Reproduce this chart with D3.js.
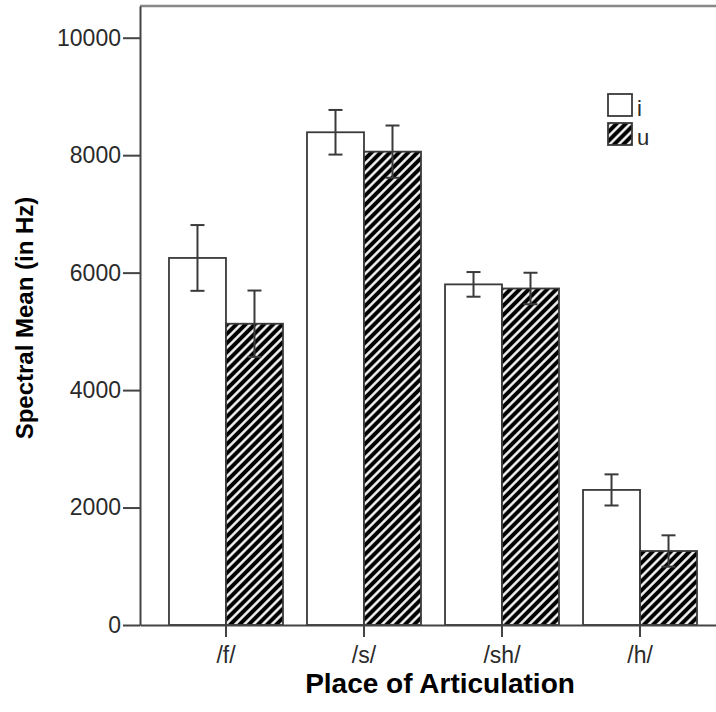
<!DOCTYPE html>
<html>
<head>
<meta charset="utf-8">
<script src="https://cdn.jsdelivr.net/npm/d3@7"></script>
<style>
  html, body { margin: 0; padding: 0; background: #fff; }
  svg { display: block; }
</style>
</head>
<body>
<svg id="chart" width="716" height="712"></svg>
<script>
// Spectral mean by place of articulation, split by following vowel
const categories = ["/f/", "/s/", "/sh/", "/h/"];
const vowels = ["i", "u"];
const meanI = [6250, 8390, 5800, 2300];
const meanU = [5130, 8060, 5730, 1260];
const errI = [560, 380, 210, 265];
const errU = [565, 445, 268, 267];
const yTicks = [0, 2000, 4000, 6000, 8000, 10000];

const svg = d3.select("#chart");
const plotLeft = 140, plotRight = 726, plotTop = 6, plotBottom = 625;

const rows = [];
categories.forEach((c, k) => {
  rows.push({ cat: c, v: "i", mean: meanI[k], err: errI[k] });
  rows.push({ cat: c, v: "u", mean: meanU[k], err: errU[k] });
});

const x = d3.scaleBand().domain(categories).range([plotLeft, plotRight])
  .paddingInner(0.174).paddingOuter(0.21);
const xSub = d3.scaleBand().domain(vowels).range([0, x.bandwidth()]);
const y = d3.scaleLinear().domain([0, 10540]).range([plotBottom, plotTop]);

// diagonal hatch for the "u" bars
const defs = svg.append("defs");
const hs = 6.5;
const pat = defs.append("pattern")
  .attr("id", "hatch")
  .attr("patternUnits", "userSpaceOnUse")
  .attr("width", hs).attr("height", hs)
  .attr("patternTransform", "rotate(45)");
pat.append("rect").attr("width", hs).attr("height", hs).attr("fill", "#000");
pat.append("line").attr("x1", hs / 2).attr("y1", -1).attr("x2", hs / 2).attr("y2", hs + 1)
  .attr("stroke", "#fff").attr("stroke-width", 2.4);

const fillFor = v => v === "i" ? "#fff" : "url(#hatch)";

// bars
svg.append("g").selectAll("rect")
  .data(rows).join("rect")
  .attr("x", d => x(d.cat) + xSub(d.v))
  .attr("y", d => y(d.mean))
  .attr("width", xSub.bandwidth())
  .attr("height", d => y(0) - y(d.mean))
  .attr("fill", d => fillFor(d.v))
  .attr("stroke", "#3a3a3a")
  .attr("stroke-width", 1.8);

// error bars
const cap = 7;
const eb = svg.append("g").attr("stroke", "#3a3a3a").attr("stroke-width", 2).attr("fill", "none");
rows.forEach(d => {
  const cx = x(d.cat) + xSub(d.v) + xSub.bandwidth() / 2;
  const y1 = y(d.mean + d.err), y2 = y(d.mean - d.err);
  eb.append("line").attr("x1", cx).attr("x2", cx).attr("y1", y1).attr("y2", y2);
  eb.append("line").attr("x1", cx - cap).attr("x2", cx + cap).attr("y1", y1).attr("y2", y1);
  eb.append("line").attr("x1", cx - cap).attr("x2", cx + cap).attr("y1", y2).attr("y2", y2);
});

// top frame line
svg.append("line")
  .attr("x1", plotLeft).attr("x2", plotRight)
  .attr("y1", plotTop).attr("y2", plotTop)
  .attr("stroke", "#888").attr("stroke-width", 2.4);

// axes
const yAxis = svg.append("g")
  .attr("transform", `translate(${plotLeft},0)`)
  .call(d3.axisLeft(y).tickValues(yTicks).tickFormat(d3.format("d"))
    .tickSize(17).tickSizeOuter(0).tickPadding(2));
const xAxis = svg.append("g")
  .attr("transform", `translate(0,${plotBottom})`)
  .call(d3.axisBottom(x).tickSize(12).tickSizeOuter(0).tickPadding(10));

[yAxis, xAxis].forEach(g => {
  g.select(".domain").attr("stroke", "#444").attr("stroke-width", 2);
  g.selectAll(".tick line").attr("stroke", "#444").attr("stroke-width", 2);
  g.selectAll(".tick text")
    .attr("fill", "#2a2a2a")
    .style("font-family", "'Liberation Sans', Arial, sans-serif")
    .style("font-size", "23px");
});

// axis titles
svg.append("text")
  .attr("x", 440).attr("y", 693)
  .attr("text-anchor", "middle")
  .style("font-family", "'Liberation Sans', Arial, sans-serif")
  .style("font-weight", "bold")
  .style("font-size", "28px")
  .attr("fill", "#000")
  .text("Place of Articulation");

svg.append("text")
  .attr("transform", "translate(33,318) rotate(-90)")
  .attr("text-anchor", "middle")
  .style("font-family", "'Liberation Sans', Arial, sans-serif")
  .style("font-weight", "bold")
  .style("font-size", "24px")
  .attr("fill", "#000")
  .text("Spectral Mean (in Hz)");

// legend
const legend = svg.append("g").attr("transform", "translate(608,94)");
vowels.forEach((v, k) => {
  const g = legend.append("g").attr("transform", `translate(0,${k * 29})`);
  g.append("rect").attr("width", 24).attr("height", 22)
    .attr("fill", fillFor(v)).attr("stroke", "#3a3a3a").attr("stroke-width", 1.8);
  g.append("text").attr("x", 29).attr("y", 22)
    .style("font-family", "'Liberation Sans', Arial, sans-serif")
    .style("font-size", "22px")
    .attr("fill", "#2a2a2a")
    .text(v);
});
</script>
</body>
</html>
